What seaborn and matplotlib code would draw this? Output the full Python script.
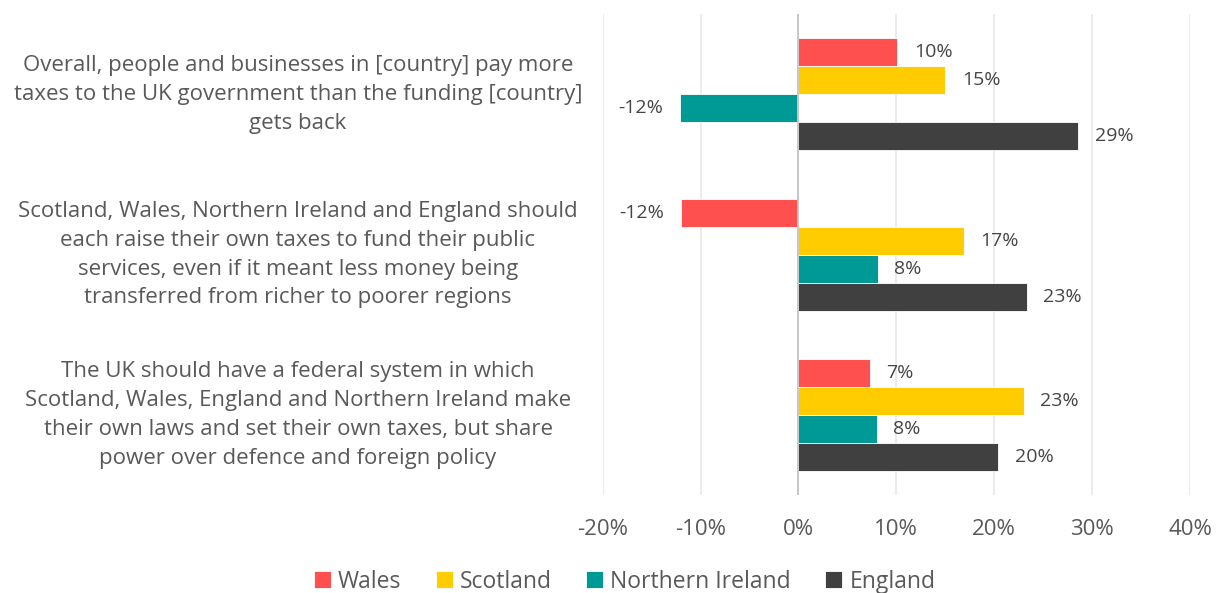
import pandas as pd
import numpy as np
import seaborn as sns
import matplotlib.pyplot as plt
from matplotlib.transforms import blended_transform_factory

# ---------------- data ----------------
statements = [
    'Overall, people and businesses in [country] pay more\ntaxes to the UK government than the funding [country]\ngets back',
    'Scotland, Wales, Northern Ireland and England should\neach raise their own taxes to fund their public\nservices, even if it meant less money being\ntransferred from richer to poorer regions',
    'The UK should have a federal system in which\nScotland, Wales, England and Northern Ireland make\ntheir own laws and set their own taxes, but share\npower over defence and foreign policy',
]
countries = ['Wales', 'Scotland', 'Northern Ireland', 'England']
wales = [10.1, -12.0, 7.3]
scotland = [15.0, 16.9, 23.0]
n_ireland = [-12.1, 8.1, 8.0]
england = [28.6, 23.3, 20.4]
colors = ['#FF5050', '#FFCC00', '#009A96', '#404040']
xticks = [-20, -10, 0, 10, 20, 30, 40]

rows = []
for name, vals in zip(countries, [wales, scotland, n_ireland, england]):
    for s, v in zip(statements, vals):
        rows.append({'Statement': s, 'Country': name, 'Value': v})
df = pd.DataFrame(rows)

# ---------------- plot ----------------
sns.set_style('white')
plt.rcParams['font.family'] = ['Open Sans', 'DejaVu Sans']
txt = '#595959'

fig = plt.figure(figsize=(12.2, 5.93), dpi=100)
ax = fig.add_axes([0.494, 0.165, 0.4814, 0.811])

sns.barplot(data=df, y='Statement', x='Value', hue='Country', order=statements,
            hue_order=countries, palette=colors, saturation=1, orient='h',
            width=0.7, edgecolor='white', linewidth=0.6, ax=ax, legend=True)

# value labels at the bar ends
for cont in ax.containers:
    ax.bar_label(cont, labels=['%d%%' % round(v) for v in cont.datavalues],
                 padding=12, fontsize=14, color='#454545')

ax.set_xlim(-20, 40)
ax.set_xticks(xticks)
ax.set_xticklabels(['%d%%' % t for t in xticks], fontsize=16, color=txt)
ax.tick_params(axis='x', length=0, pad=17)
ax.set_yticks(range(len(statements)))
ax.set_yticklabels([])
ax.tick_params(axis='y', length=0)
ax.set_xlabel('')
ax.set_ylabel('')
ax.grid(axis='x', color='#E8E8E8', linewidth=1.2)
ax.set_axisbelow(True)
ax.axvline(0, color='#C8C8C8', linewidth=1.4, zorder=1)
for sp in ax.spines.values():
    sp.set_visible(False)

# statement text, centred in the left margin
tr = blended_transform_factory(fig.transFigure, ax.transData)
for i, s in enumerate(statements):
    ax.text(298 / 1220, i, s, transform=tr, ha='center', va='center',
            fontsize=16, color=txt, linespacing=1.48)

handles, labels = ax.get_legend_handles_labels()
ax.legend_.remove()
fig.legend(handles, labels, loc='lower center', bbox_to_anchor=(0.512, -0.036),
           ncol=4, frameon=False, fontsize=16.5, labelcolor=txt,
           handlelength=0.75, handleheight=0.75, handletextpad=0.3,
           columnspacing=1.5)

fig.savefig('out.png', dpi=100)
